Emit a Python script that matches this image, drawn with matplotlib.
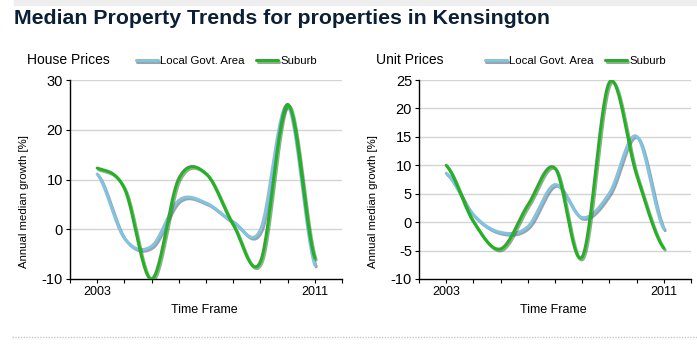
import matplotlib
matplotlib.use('Agg')
import matplotlib.pyplot as plt
import matplotlib.patheffects as pe
import numpy as np

plt.rcParams['font.family'] = ['Liberation Sans', 'DejaVu Sans']
plt.rcParams['axes.unicode_minus'] = False

years = [2003, 2004, 2005, 2006, 2007, 2008, 2009, 2010, 2011]
house_lga = [11.1, -1.8, -3.4, 5.8, 5.3, 1.5, -0.1, 24.8, -7.2]
house_suburb = [12.3, 8.2, -10.0, 10.2, 11.2, 0.9, -6.5, 25.1, -5.8]
unit_lga = [8.6, 1.3, -1.8, -0.8, 6.6, 0.8, 5.1, 15.1, -1.2]
unit_suburb = [10.0, 0.1, -4.7, 3.0, 9.5, -6.1, 24.6, 8.3, -4.6]

panels = [
    ('House Prices', house_lga, house_suburb, (-10, 30), [-10, 0, 10, 20, 30]),
    ('Unit Prices', unit_lga, unit_suburb, (-10, 25), [-10, -5, 0, 5, 10, 15, 20, 25]),
]

blue = '#80c4e4'
green = '#22b322'


def smooth(x, y, n=30):
    # catmull-rom curve through the yearly points
    x = np.asarray(x, float)
    y = np.asarray(y, float)
    px = np.concatenate([[x[0]], x, [x[-1]]])
    py = np.concatenate([[y[0]], y, [y[-1]]])
    xs, ys = [], []
    t = np.linspace(0, 1, n)
    for i in range(1, len(px) - 2):
        m0 = (py[i + 1] - py[i - 1]) / 2
        m1 = (py[i + 2] - py[i]) / 2
        h00 = 2 * t**3 - 3 * t**2 + 1
        h10 = t**3 - 2 * t**2 + t
        h01 = -2 * t**3 + 3 * t**2
        h11 = t**3 - t**2
        xs.append(px[i] + (px[i + 1] - px[i]) * t)
        ys.append(h00 * py[i] + h10 * m0 + h01 * py[i + 1] + h11 * m1)
    return np.concatenate(xs), np.concatenate(ys)


fig = plt.figure(figsize=(6.97, 3.54), dpi=100)

# grey band at top and dotted separator at bottom
fig.patches.append(plt.Rectangle((14 / 697, 1 - 5 / 354), 1, 5 / 354,
                                 transform=fig.transFigure, color='#eeeeee', zorder=0))
fig.add_artist(plt.Line2D([12 / 697, 1], [1 - 337 / 354] * 2, transform=fig.transFigure,
                          color='#c8c8c8', lw=1, ls=(0, (1, 1))))

fig.text(14 / 697, 1 - 18 / 354, 'Median Property Trends for properties in Kensington',
         fontsize=15.3, fontweight='bold', color='#0b2036', va='center', ha='left')

lefts = [70, 419]
shadow = [pe.SimpleLineShadow(offset=(1, -1.2), shadow_color='#555555', alpha=0.55),
          pe.Normal()]

for k, (name, lga, sub, ylim, yticks) in enumerate(panels):
    ax = fig.add_axes([lefts[k] / 697, 75 / 354, 272 / 697, 199 / 354])
    sx, sy = smooth(years, lga)
    ax.plot(sx, sy, color=blue, lw=2.2, label='Local Govt. Area', path_effects=shadow,
            solid_capstyle='round')
    sx, sy = smooth(years, sub)
    ax.plot(sx, sy, color=green, lw=2.2, label='Suburb', path_effects=shadow,
            solid_capstyle='round')

    ax.set_xlim(2002, 2012)
    ax.set_ylim(*ylim)
    ax.set_yticks(yticks)
    ax.set_xticks(range(2002, 2013))
    ax.set_xticklabels(['' if y not in (2003, 2011) else str(y) for y in range(2002, 2013)])
    ax.tick_params(axis='x', length=3, width=0.8, labelsize=9, pad=2)
    ax.tick_params(axis='y', length=3, width=0.8, labelsize=10.5, pad=2)
    ax.grid(axis='y', color='#d4d4d4', lw=1)
    ax.set_axisbelow(True)
    for s in ('top', 'right'):
        ax.spines[s].set_visible(False)
    ax.spines['left'].set_linewidth(1)
    ax.spines['bottom'].set_linewidth(1)
    ax.spines['bottom'].set_zorder(0.5)

    x0 = lefts[k] / 697
    fig.text(x0 - 43 / 697, 1 - 60 / 354, name, fontsize=10, va='center', ha='left')
    fig.text(x0 - 46 / 697, 1 - 202 / 354, 'Annual median growth [%]', fontsize=8.2,
             rotation=90, va='center', ha='center')
    fig.text(x0 + 134 / 697, 1 - 310 / 354, 'Time Frame', fontsize=9, va='center',
             ha='center')
    ax.legend(loc='center left', bbox_to_anchor=((lefts[k] + 66) / 697, 1 - 61 / 354),
              bbox_transform=fig.transFigure, ncol=2, frameon=False, fontsize=8.2,
              handlelength=1.9, handletextpad=0.25, columnspacing=1.0, borderpad=0,
              borderaxespad=0)

plt.savefig('out.png', dpi=100)
